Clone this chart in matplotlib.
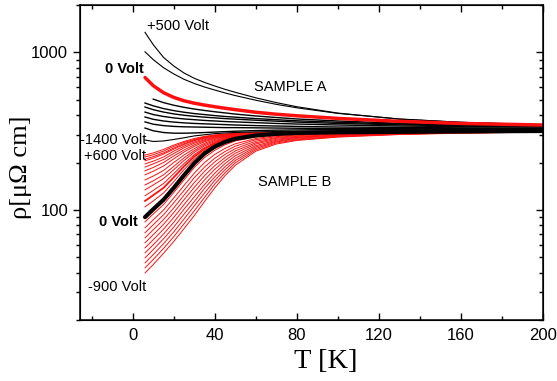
import numpy as np
import matplotlib
matplotlib.use("Agg")
import matplotlib.pyplot as plt

# temperature grid the curves were read at (K)
t_k = [6, 10, 15, 20, 25, 30, 35, 40, 45, 50, 60, 70, 80, 100, 130, 160, 200]

# SAMPLE A ------------------------------------------------------------
a_plus500 = [1340, 1120, 930, 820, 740, 685, 645, 612, 583, 558, 515, 480, 452, 412, 377, 360, 348]
a_second = [1009, 900, 800, 730, 675, 635, 603, 577, 553, 532, 497, 468, 445, 410, 378, 360, 345]
a_zero_volt = [693, 615, 555, 518, 493, 476, 463, 452, 442, 433, 417, 405, 396, 381, 365, 354, 346]
a_black_curves = [
    [np.nan, 505, 480, 462, 448, 437, 428, 420, 413, 406, 395, 386, 378, 367, 355, 347, 342],
    [477, 458, 440, 427, 417, 409, 403, 397, 392, 388, 380, 374, 368, 360, 351, 345, 340],
    [450, 433, 418, 407, 399, 393, 388, 384, 380, 377, 371, 366, 361, 354, 347, 342, 338],
    [418, 403, 392, 384, 378, 374, 370, 367, 364, 362, 358, 354, 351, 346, 341, 338, 336],
    [389, 376, 367, 361, 357, 354, 352, 350, 348, 346, 343, 341, 339, 336, 334, 332, 331],
    [362, 350, 343, 339, 337, 336, 335, 334, 333, 333, 332, 331, 330, 329, 328, 328, 328],
    [331, 318, 310, 307, 307, 308, 310, 312, 314, 316, 319, 321, 322, 324, 325, 326, 327],
]
a_minus1400 = [278, 272, 274, 280, 287, 295, 300, 305, 308, 310, 313, 315, 316, 319, 321, 323, 324]

# SAMPLE B ------------------------------------------------------------
b_upper_curves = [
    [223, 230, 242, 258, 272, 284, 293, 299, 303, 306, 309, 311, 313, 315, 316, 317, 319],
    [217, 224, 236, 253, 268, 280, 291, 298, 302, 305, 309, 311, 313, 315, 316, 317, 319],
    [210, 218, 230, 247, 263, 277, 288, 296, 300, 305, 308, 311, 313, 315, 316, 317, 319],
    [205, 213, 226, 243, 260, 275, 286, 295, 300, 304, 308, 310, 313, 315, 316, 317, 319],
    [196, 204, 217, 236, 254, 270, 283, 292, 298, 303, 307, 310, 312, 314, 316, 317, 319],
    [187, 196, 209, 228, 248, 265, 279, 290, 296, 302, 307, 310, 312, 314, 315, 317, 319],
    [177, 186, 200, 220, 240, 259, 275, 287, 294, 301, 306, 309, 312, 314, 315, 317, 319],
    [167, 176, 190, 211, 233, 253, 271, 284, 292, 299, 305, 309, 311, 314, 315, 316, 318],
    [155, 164, 178, 200, 223, 245, 265, 280, 290, 297, 304, 308, 311, 313, 315, 316, 318],
    [144, 153, 167, 189, 214, 238, 260, 276, 287, 296, 303, 308, 311, 313, 315, 316, 318],
    [134, 144, 158, 180, 206, 232, 255, 272, 285, 294, 302, 307, 310, 313, 314, 316, 318],
    [123, 133, 147, 170, 197, 224, 249, 268, 282, 292, 301, 306, 310, 312, 314, 316, 318],
    [114, 124, 138, 161, 189, 218, 244, 264, 279, 290, 300, 306, 309, 312, 314, 316, 318],
    [104.5, 114, 128, 151, 180, 210, 238, 260, 276, 288, 299, 305, 309, 312, 314, 316, 318],
]
b_zero_volt = [90, 101, 116, 138, 166, 198, 228, 252, 270, 283, 297, 304, 308, 311, 313, 315, 317]
b_lower_curves = [
    [84, 94.2, 108, 129, 155, 186, 215, 239, 259, 274, 291, 300, 305, 309, 312, 314, 317],
    [77, 86.5, 99.8, 119, 143, 171, 200, 225, 246, 263, 284, 296, 302, 307, 311, 313, 316],
    [71.5, 80.5, 93.1, 111, 133, 160, 187, 213, 235, 254, 279, 292, 299, 305, 310, 313, 316],
    [66.4, 74.8, 86.7, 103, 124, 149, 176, 202, 225, 245, 273, 288, 296, 303, 309, 312, 315],
    [61.8, 69.6, 80.9, 96.2, 116, 139, 165, 191, 215, 237, 267, 285, 293, 301, 307, 311, 315],
    [57.4, 64.7, 75.4, 89.6, 108, 130, 155, 181, 206, 229, 262, 281, 290, 299, 306, 311, 314],
    [53.4, 60.1, 70.2, 83.5, 101, 121, 145, 171, 197, 221, 256, 277, 288, 298, 305, 310, 314],
    [49.6, 56.0, 65.5, 77.8, 94, 113, 137, 162, 188, 213, 251, 273, 285, 296, 304, 309, 313],
    [46.1, 52.0, 61.0, 72.5, 87.5, 106, 128, 154, 180, 206, 246, 270, 282, 294, 303, 308, 313],
    [42.9, 48.4, 56.9, 67.6, 81.6, 98.6, 120, 146, 172, 199, 241, 266, 279, 292, 302, 308, 312],
    [39.8, 45, 53, 63, 76, 92, 113, 138, 165, 192, 236, 262, 276, 290, 301, 307, 312],
]

RED = "#ff1010"
SANS = "Liberation Sans"
SERIF = "Liberation Serif"

fig = plt.figure(figsize=(5.57, 3.81), dpi=100)
ax = fig.add_axes([80 / 557, 1 - 320 / 381, 463 / 557, 315 / 381])

# sample B first, so sample A sits on top
for i, curve in enumerate(b_upper_curves):
    ax.plot(t_k, curve, color=RED, lw=1.3 if i == 12 else 0.7)
for curve in b_lower_curves:
    ax.plot(t_k, curve, color=RED, lw=0.7)
ax.plot(t_k, b_zero_volt, color="black", lw=3.0, solid_capstyle="round")

ax.plot(t_k, a_minus1400, color="black", lw=0.8)
for curve in a_black_curves:
    ax.plot(t_k, curve, color="black", lw=1.0)
ax.plot(t_k, a_second, color="black", lw=0.8)
ax.plot(t_k, a_plus500, color="black", lw=0.8)
ax.plot(t_k, a_zero_volt, color=RED, lw=2.5, solid_capstyle="round")

ax.set_yscale("log")
ax.set_xlim(-25.7, 200)
ax.set_ylim(20, 2000)
ax.set_xticks([0, 40, 80, 120, 160, 200])
ax.set_xticks([-20, 20, 60, 100, 140, 180], minor=True)
ax.set_yticks([100, 1000])
ax.set_yticklabels(["100", "1000"])
ax.yaxis.set_minor_formatter(matplotlib.ticker.NullFormatter())

for sp in ax.spines.values():
    sp.set_linewidth(1.1)
ax.tick_params(axis="x", which="both", direction="in", top=True, width=1.0,
               labelsize=12, pad=6)
ax.tick_params(axis="x", which="major", length=5)
ax.tick_params(axis="x", which="minor", length=3)
ax.tick_params(axis="y", which="both", direction="out", width=1.0, labelsize=12)
ax.tick_params(axis="y", which="major", length=5)
ax.tick_params(axis="y", which="minor", length=3)
for lab in ax.get_xticklabels() + ax.get_yticklabels():
    lab.set_family(SANS)

# inward ticks on the right-hand side
ax_r = ax.twinx()
ax_r.set_yscale("log")
ax_r.set_ylim(ax.get_ylim())
ax_r.set_yticks([100, 1000])
ax_r.tick_params(axis="y", which="both", direction="in", labelright=False, width=1.0)
ax_r.tick_params(axis="y", which="major", length=5)
ax_r.tick_params(axis="y", which="minor", length=3)
ax_r.yaxis.set_minor_formatter(matplotlib.ticker.NullFormatter())

# annotations
txt = dict(family=SANS, fontsize=10.5, va="center")
ax.text(7.0, 1470, "+500 Volt", ha="left", **txt)
ax.text(5.5, 780, "0 Volt", ha="right", fontweight="bold", **txt)
ax.text(59, 605, "SAMPLE A", ha="left", **txt)
ax.text(6.5, 278, "-1400 Volt", ha="right", **txt)
ax.text(6.5, 220, "+600 Volt", ha="right", **txt)
ax.text(61, 150, "SAMPLE B", ha="left", **txt)
ax.text(2.6, 84, "0 Volt", ha="right", fontweight="bold", **txt)
ax.text(6.5, 32.5, "-900 Volt", ha="right", **txt)

fig.text(326 / 557, 1 - 362 / 381, "T [K]", family=SERIF, fontsize=20.5,
         ha="center", va="center")
fig.text(21 / 557, 1 - 167 / 381, "ρ[μΩ cm]", family=SERIF, fontsize=19,
         ha="center", va="center", rotation=90)

fig.savefig("out.png", dpi=100)
